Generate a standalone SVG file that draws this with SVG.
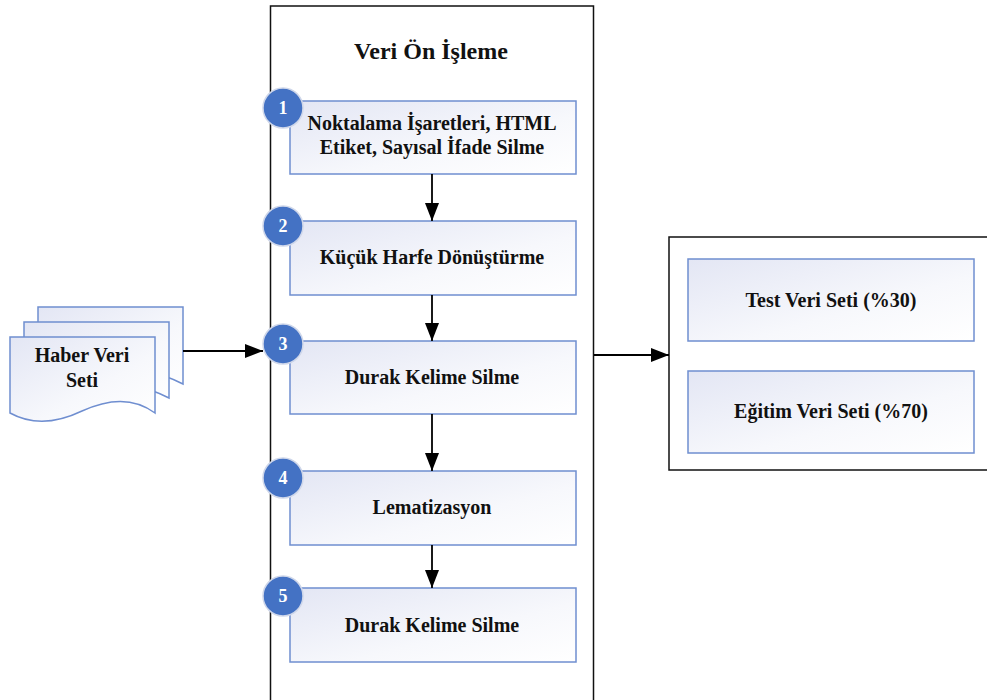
<svg xmlns="http://www.w3.org/2000/svg" width="987" height="700" viewBox="0 0 987 700">
  <defs>
    <linearGradient id="boxFill" x1="0" y1="0" x2="1" y2="1">
      <stop offset="0" stop-color="#e3e6f4"/>
      <stop offset="0.6" stop-color="#f7f8fc"/>
      <stop offset="1" stop-color="#ffffff"/>
    </linearGradient>
    <marker id="arrow" markerUnits="userSpaceOnUse" markerWidth="18" markerHeight="14" refX="18" refY="7" orient="auto">
      <path d="M0,0 L18,7 L0,14 Z" fill="#000"/>
    </marker>
  </defs>
  <style>
    .frame { fill: #fff; stroke: #111; stroke-width: 1.5; }
    .step { fill: url(#boxFill); stroke: #6f8ed0; stroke-width: 1.5; }
    .badge { fill: #4472c4; stroke: #cfd7ea; stroke-width: 1.5; }
    .num { font-family: "Liberation Serif", "Times New Roman", serif; font-weight: bold; font-size: 18px; fill: #fff; text-anchor: middle; }
    .lbl { font-family: "Liberation Serif", "Times New Roman", serif; font-weight: bold; font-size: 20px; fill: #111; text-anchor: middle; }
    .title { font-family: "Liberation Serif", "Times New Roman", serif; font-weight: bold; font-size: 24px; fill: #111; text-anchor: middle; }
    .conn { fill: none; stroke: #000; stroke-width: 1.8; marker-end: url(#arrow); }
  </style>

  <rect x="0" y="0" width="987" height="700" fill="#fff"/>

  <!-- preprocessing container -->
  <g id="preprocessing">
    <rect class="frame" x="270.5" y="6" width="323" height="710"/>
    <text class="title" x="431" y="59">Veri Ön İşleme</text>
  </g>

  <!-- output container -->
  <g id="datasets">
    <rect class="frame" x="669" y="237" width="330" height="233"/>
  </g>

  <!-- source document stack -->
  <g id="source">
    <path class="step" d="M38,307 H183 V384 C158,371 138,369 110,382 C83,395 58,395 38,384 Z"/>
    <path class="step" d="M24,322 H169 V398 C144,385 124,383 96,396 C69,409 44,409 24,398 Z"/>
    <path class="step" d="M10,337 H155 V413 C135,398 110,398 82,411 C55,424 30,424 10,413 Z"/>
    <text class="lbl" x="82" y="362">Haber Veri</text>
    <text class="lbl" x="82" y="387">Seti</text>
  </g>

  <g id="step1">
    <rect class="step" x="290" y="101" width="286" height="73"/>
    <text class="lbl" x="432" y="130">Noktalama İşaretleri, HTML</text>
    <text class="lbl" x="432" y="154">Etiket, Sayısal İfade Silme</text>
    <circle class="badge" cx="283" cy="108" r="20"/>
    <text class="num" x="283" y="114">1</text>
  </g>

  <g id="step2">
    <rect class="step" x="290" y="221" width="286" height="74"/>
    <text class="lbl" x="432" y="264">Küçük Harfe Dönüştürme</text>
    <circle class="badge" cx="283" cy="226" r="20"/>
    <text class="num" x="283" y="232">2</text>
  </g>

  <g id="step3">
    <rect class="step" x="290" y="341" width="286" height="73"/>
    <text class="lbl" x="432" y="384">Durak Kelime Silme</text>
    <circle class="badge" cx="283" cy="344" r="20"/>
    <text class="num" x="283" y="350">3</text>
  </g>

  <g id="step4">
    <rect class="step" x="290" y="471" width="286" height="74"/>
    <text class="lbl" x="432" y="514">Lematizasyon</text>
    <circle class="badge" cx="283" cy="478" r="20"/>
    <text class="num" x="283" y="484">4</text>
  </g>

  <g id="step5">
    <rect class="step" x="290" y="588" width="286" height="74"/>
    <text class="lbl" x="432" y="632">Durak Kelime Silme</text>
    <circle class="badge" cx="283" cy="596" r="20"/>
    <text class="num" x="283" y="602">5</text>
  </g>

  <g id="testSet">
    <rect class="step" x="688" y="259" width="286" height="82"/>
    <text class="lbl" x="831" y="307">Test Veri Seti (%30)</text>
  </g>

  <g id="trainSet">
    <rect class="step" x="688" y="371" width="286" height="82"/>
    <text class="lbl" x="831" y="418">Eğitim Veri Seti (%70)</text>
  </g>

  <!-- connectors -->
  <g id="connectors">
    <line class="conn" x1="183" y1="351" x2="263" y2="351"/>
    <line class="conn" x1="432" y1="174" x2="432" y2="221"/>
    <line class="conn" x1="432" y1="295" x2="432" y2="341"/>
    <line class="conn" x1="432" y1="414" x2="432" y2="471"/>
    <line class="conn" x1="432" y1="545" x2="432" y2="588"/>
    <line class="conn" x1="594" y1="355" x2="669" y2="355"/>
  </g>
</svg>
